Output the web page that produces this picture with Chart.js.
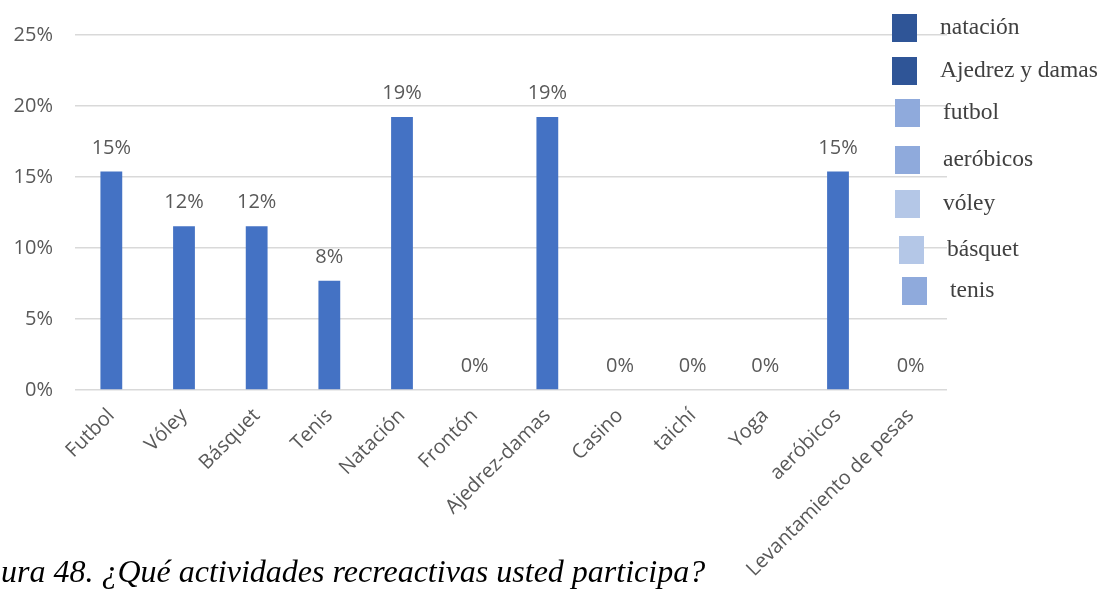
<!DOCTYPE html>
<html>
<head>
<meta charset="utf-8">
<script src="https://cdn.jsdelivr.net/npm/chart.js@4.4.1/dist/chart.umd.min.js"></script>
<style>
    body { margin: 0; background: #fff; }
    #wrap { position: relative; width: 1109px; height: 590px; overflow: hidden; }
    #legend { position: absolute; left: 0; top: 0; }
    .leg-box { position: absolute; width: 25px; height: 28px; }
    .leg-text { position: absolute; font-family: "Liberation Serif", "Times New Roman", serif; font-size: 23.5px; color: #404040; white-space: nowrap; line-height: 1; }
    #caption { position: absolute; left: 1px; top: 555px; font-family: "Liberation Serif", "Times New Roman", serif; font-style: italic; font-size: 32px; line-height: 1; color: #000; white-space: nowrap; }
</style>
</head>
<body>
<div id="wrap">
    <canvas id="chart" width="1109" height="590"></canvas>
    <div id="legend"></div>
    <div id="caption">ura 48. ¿Qué actividades recreactivas usted participa?</div>
</div>
<script>
// chart data
const categories = ["Futbol", "Vóley", "Básquet", "Tenis", "Natación", "Frontón", "Ajedrez-damas", "Casino", "taichí", "Yoga", "aeróbicos", "Levantamiento de pesas"];
const percents = [15.38, 11.54, 11.54, 7.69, 19.23, 0, 19.23, 0, 0, 0, 15.38, 0];
const yTicks = [0, 5, 10, 15, 20, 25];

// legend on the right (separate list in the original figure)
const legendLabels = ["natación", "Ajedrez y damas", "futbol", "aeróbicos", "vóley", "básquet", "tenis"];
const legendColors = ["#2F5597", "#2F5597", "#8FAADC", "#8FAADC", "#B4C7E7", "#B4C7E7", "#8FAADC"];

const legendPos = [
    { x: 892, y: 14, tx: 940 },
    { x: 892, y: 57, tx: 940 },
    { x: 895, y: 99, tx: 943 },
    { x: 895, y: 146, tx: 943 },
    { x: 895, y: 190, tx: 943 },
    { x: 899, y: 236, tx: 947 },
    { x: 902, y: 277, tx: 950 },
];

const legend = document.getElementById("legend");
legendLabels.forEach((lab, i) => {
    const p = legendPos[i];
    const box = document.createElement("div");
    box.className = "leg-box";
    box.style.left = p.x + "px";
    box.style.top = p.y + "px";
    box.style.background = legendColors[i];
    legend.appendChild(box);
    const t = document.createElement("div");
    t.className = "leg-text";
    t.style.left = p.tx + "px";
    t.style.top = (p.y + 1) + "px";
    t.textContent = lab;
    legend.appendChild(t);
});

// value labels above the bars
const valueLabels = {
    id: "valueLabels",
    afterDatasetsDraw(chart) {
        const ctx = chart.ctx;
        const meta = chart.getDatasetMeta(0);
        ctx.save();
        ctx.font = "20px 'Open Sans', sans-serif";
        ctx.fillStyle = "#595959";
        ctx.textAlign = "center";
        ctx.textBaseline = "alphabetic";
        meta.data.forEach((bar, i) => {
            ctx.fillText(Math.round(percents[i]) + "%", bar.x, bar.y - 18);
        });
        ctx.restore();
    }
};

const ctx = document.getElementById("chart").getContext("2d");
new Chart(ctx, {
    type: "bar",
    data: {
        labels: categories,
        datasets: [{
            data: percents,
            backgroundColor: "#4472C4",
            categoryPercentage: 1,
            barPercentage: 0.3,
        }],
    },
    options: {
        responsive: false,
        animation: false,
        layout: { padding: { top: 35, right: 162, left: 0, bottom: 0 } },
        plugins: { legend: { display: false }, tooltip: { enabled: false } },
        scales: {
            y: {
                min: 0,
                max: 25,
                afterBuildTicks(scale) { scale.ticks = yTicks.map(v => ({ value: v })); },
                afterFit(scale) { scale.width = 75; },
                ticks: {
                    callback: v => v + "%",
                    color: "#595959",
                    font: { family: "'Open Sans', sans-serif", size: 20 },
                    padding: 22,
                },
                grid: { color: "#d9d9d9", lineWidth: 1.5, drawTicks: false },
                border: { display: false },
            },
            x: {
                afterFit(scale) { scale.height = 200; },
                ticks: {
                    autoSkip: false,
                    minRotation: 45,
                    maxRotation: 45,
                    color: "#595959",
                    font: { family: "'Open Sans', sans-serif", size: 20 },
                    padding: 6,
                },
                grid: { display: false },
                border: { display: false },
            },
        },
    },
    plugins: [valueLabels],
});
</script>
</body>
</html>
